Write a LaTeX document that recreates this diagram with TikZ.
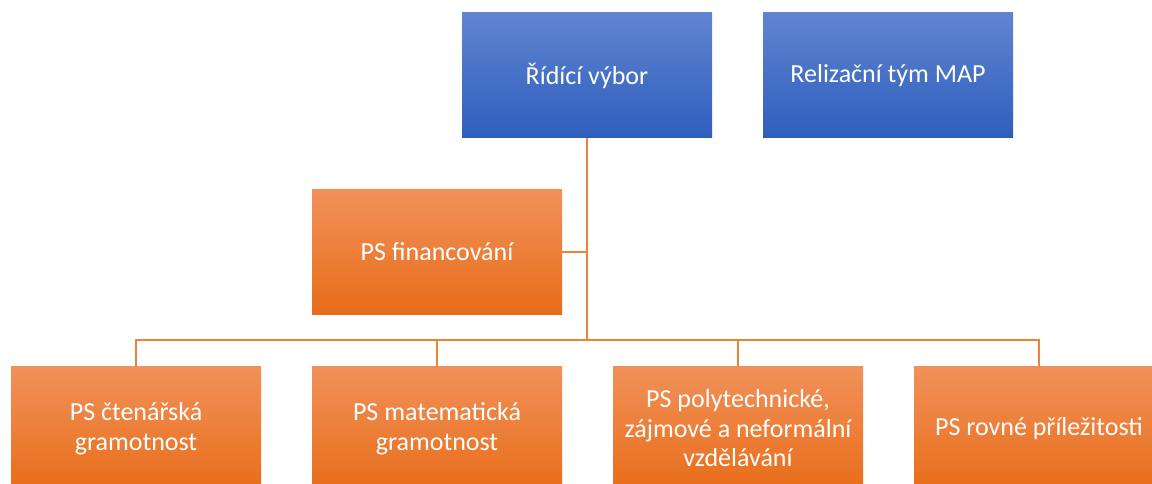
\documentclass[tikz,border=0pt]{standalone}
\usepackage{fontspec}
\setmainfont{Carlito}
\definecolor{bluetop}{HTML}{6084D0}
\definecolor{bluebot}{HTML}{2E5EBD}
\definecolor{orgtop}{HTML}{F1915A}
\definecolor{orgbot}{HTML}{E86D19}
\definecolor{linecol}{HTML}{F08236}
\begin{document}
\begin{tikzpicture}[x=1pt,y=-1pt,
  boxbase/.style={rectangle, minimum width=250pt, minimum height=125pt, inner sep=0pt,
    text=white, align=center, font=\fontsize{26pt}{29.5pt}\selectfont},
  bluebox/.style={boxbase, top color=bluetop, bottom color=bluebot},
  orgbox/.style={boxbase, top color=orgtop, bottom color=orgbot},
  conn/.style={draw=linecol, line width=1.5pt}]
\useasboundingbox (0,0) rectangle (1152,484);
\clip (0,0) rectangle (1152,484);
\node[bluebox] (rv) at (587,75.5) {Řídící výbor};
\node[bluebox] (rt) at (888,75.5) {Relizační tým MAP};
\node[orgbox] (fin) at (437,252) {PS financování};
\node[orgbox] (b1) at (136,428.5) {PS čtenářská\\gramotnost};
\node[orgbox] (b2) at (437,428.5) {PS matematická\\gramotnost};
\node[orgbox] (b3) at (738,428.5) {PS polytechnické,\\zájmové a neformální\\vzdělávání};
\node[orgbox] (b4) at (1039,428.5) {PS rovné příležitosti};
\coordinate (j) at (587,340);
\draw[conn] (rv.south) -- (j);
\draw[conn] (fin.east) -- (fin.east -| j);
\draw[conn] (b1.north) |- (j);
\draw[conn] (b2.north) |- (j);
\draw[conn] (b3.north) |- (j);
\draw[conn] (b4.north) |- (j);
\end{tikzpicture}
\end{document}
